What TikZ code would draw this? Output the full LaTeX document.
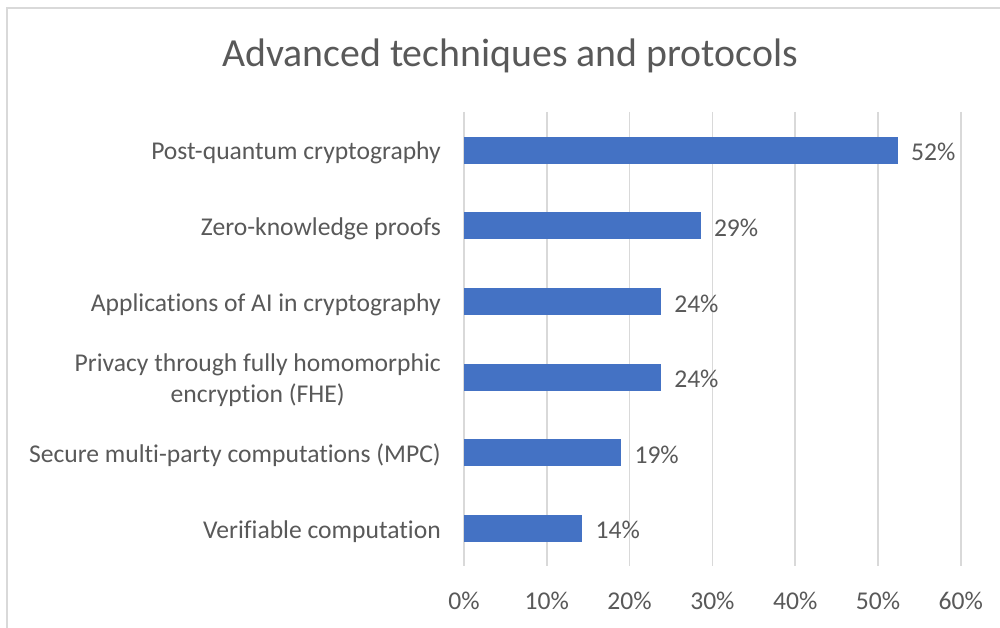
\documentclass[tikz,border=0pt]{standalone}
\usepackage{fontspec}
\setmainfont{Carlito}[Ligatures=NoCommon]
\definecolor{barblue}{HTML}{4472C4}
\definecolor{gridgray}{HTML}{D9D9D9}
\definecolor{txtgray}{HTML}{595959}
\tikzset{
  chartframe/.style={draw=gridgray, line width=2.2pt},
  gridline/.style={draw=gridgray, line width=1.5pt},
  databar/.style={fill=barblue},
  catlabel/.style={anchor=east, inner sep=0pt, align=center, text=txtgray,
    font=\fontsize{25.6}{31}\selectfont},
  vallabel/.style={anchor=west, inner sep=0pt, text=txtgray,
    font=\fontsize{25.6}{31}\selectfont},
  ticklabel/.style={anchor=center, inner sep=0pt, text=txtgray,
    font=\fontsize{25.6}{31}\selectfont},
  charttitle/.style={anchor=center, inner sep=0pt, text=txtgray,
    font=\fontsize{39.8}{46}\selectfont}
}
\begin{document}
\begin{tikzpicture}[x=1pt, y=-1pt]
  \useasboundingbox (0,0) rectangle (1000,628);
  \fill[white] (0,0) rectangle (1000,628);
  % outer chart border (top and left edges visible)
  \draw[chartframe] (7,628) -- (7,8) -- (1000,8);
  % title
  \node[charttitle] (title) at (510,56) {Advanced techniques and protocols};
  % vertical gridlines and axis tick labels
  \foreach \i in {0,...,6} {
    \draw[gridline] (464+82.8*\i,112) -- (464+82.8*\i,566);
    \pgfmathtruncatemacro{\pct}{10*\i}
    \node[ticklabel] (tick\i) at (464+82.8*\i,601) {\pct\%};
  }
  % bars: value, centre line, category, label
  \foreach \v/\y/\lab/\n in {
      52.4/150.2/{Post-quantum cryptography}/1,
      28.6/225.8/{Zero-knowledge proofs}/2,
      23.8/301.4/{Applications of AI in cryptography}/3,
      23.8/377.0/{Privacy through fully homomorphic\\encryption (FHE)}/4,
      19.0/452.6/{Secure multi-party computations (MPC)}/5,
      14.3/528.2/{Verifiable computation}/6} {
    \fill[databar] (464,\y-13.5) rectangle (464+8.28*\v,\y+13.5);
    \coordinate (end\n) at (464+8.28*\v,\y);
    \node[catlabel] (cat\n) at (441,\y+3) {\lab};
    \pgfmathtruncatemacro{\r}{round(\v)}
    \node[vallabel] (val\n) at ([xshift=13pt,yshift=-2pt]end\n) {\r\%};
  }
\end{tikzpicture}
\end{document}
